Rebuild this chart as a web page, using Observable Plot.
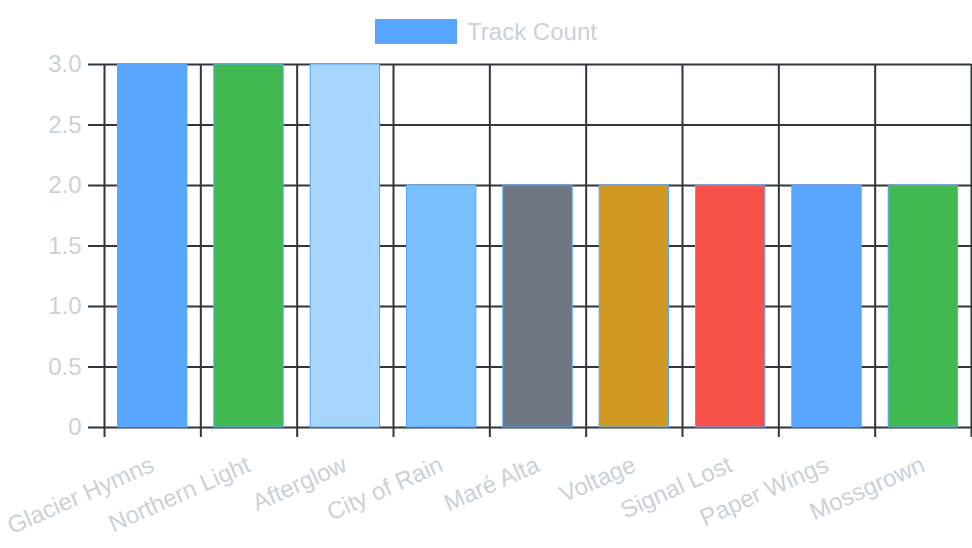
<!DOCTYPE html>
<html><head><meta charset="utf-8">
<script src="https://cdn.jsdelivr.net/npm/d3@7"></script>
<script src="https://cdn.jsdelivr.net/npm/@observablehq/plot@0.6"></script>
<style>
body{margin:0;background:#fff;font-family:"Liberation Sans",Arial,Helvetica,sans-serif;}
#legend{height:50px;box-sizing:border-box;padding-top:19px;display:flex;justify-content:center;align-items:flex-start;}
#legend .sw{width:82px;height:25px;background:#58a6ff;margin-right:10px;}
#legend .lb{font-size:24px;line-height:25px;color:#c9d1d9;}
</style></head>
<body>
<div id="legend"><div class="sw"></div><div class="lb">Track Count</div></div>
<div id="chart"></div>
<script>
const albums = ["Glacier Hymns","Northern Light","Afterglow","City of Rain","Maré Alta","Voltage","Signal Lost","Paper Wings","Mossgrown"];
const trackCounts = [3,3,3,2,2,2,2,2,2];
const barColors = ["#58a6ff","#3fb950","#a5d6ff","#79c0ff","#6e7681","#d29922","#f85149","#58a6ff","#3fb950"];
const yTicks = [0,0.5,1,1.5,2,2.5,3];
const yTickLabels = ["0","0.5","1.0","1.5","2.0","2.5","3.0"];

const data = albums.map((a,i)=>({album:a,count:trackCounts[i],color:barColors[i]}));
const W = 972, H = 498, mL = 104, mR = 1, mT = 14, mB = 121;
const bw = (W - mL - mR) / albums.length;
const gridColor = "#30363d", textColor = "#c9d1d9";

const chart = Plot.plot({
  width: W, height: H,
  marginLeft: mL, marginRight: mR, marginTop: mT, marginBottom: mB,
  style: {fontFamily: '"Liberation Sans",Arial,Helvetica,sans-serif', fontSize: "24px", background: "#fff"},
  x: {domain: albums, padding: 0, round: false, label: null},
  y: {domain: [0,3], label: null},
  color: {type: "identity"},
  marks: [
    Plot.ruleY(yTicks, {y: d=>d, stroke: gridColor, strokeWidth: 2, insetLeft: -16}),
    Plot.ruleX(albums, {x: d=>d, dx: -bw/2, stroke: gridColor, strokeWidth: 2, insetBottom: -10}),
    Plot.ruleX(albums.slice(-1), {x: d=>d, dx: bw/2, stroke: gridColor, strokeWidth: 2, insetBottom: -10}),
    Plot.barY(data, {x: "album", y: "count", fill: "color", stroke: "#58a6ff", strokeWidth: 1, insetLeft: bw*0.14, insetRight: bw*0.14}),
    Plot.axisY({ticks: yTicks, tickFormat: d => yTickLabels[yTicks.indexOf(d)], tickSize: 0, tickPadding: 23, fontSize: 24, color: textColor, label: null}),
    Plot.axisX({tickSize: 0, tickRotate: -24, tickPadding: 36, fontSize: 24, color: textColor, label: null})
  ]
});
document.getElementById("chart").appendChild(chart);
</script>
</body></html>
